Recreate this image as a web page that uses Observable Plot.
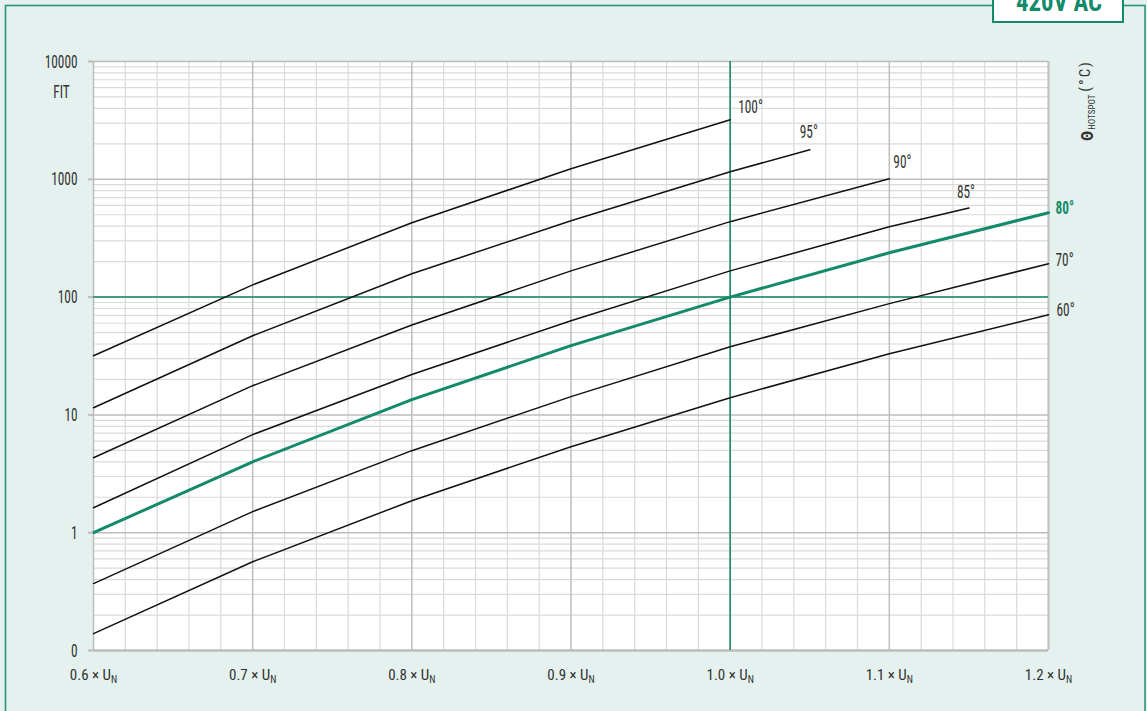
<!DOCTYPE html>
<html><head><meta charset="utf-8">
<script src="https://cdn.jsdelivr.net/npm/d3@7"></script>
<script src="https://cdn.jsdelivr.net/npm/@observablehq/plot@0.6"></script>
<style>body{margin:0;background:#e4f1ee;} #chart svg{display:block}</style>
</head><body><div id="chart"></div>
<script>
// ---- data ----
const voltages = [0.6, 0.7, 0.8, 0.9, 1.0, 1.05, 1.1, 1.15, 1.2];
const fit100 = [31.8, 127, 428, 1230, 3200, null, null, null, null];
const fit95  = [11.5, 47, 158, 445, 1160, 1780, null, null, null];
const fit90  = [4.33, 17.7, 58, 167, 437, null, 1010, null, null];
const fit85  = [1.63, 6.8, 22, 63, 167, null, 396, 570, null];
const fit80  = [1.0, 4.0, 13.5, 38.7, 100, null, 238, null, 520];
const fit70  = [0.37, 1.51, 4.97, 14.3, 37.9, null, 88, null, 192];
const fit60  = [0.139, 0.567, 1.87, 5.37, 14.0, null, 33.1, null, 70.9];
const temps = ["100°", "95°", "90°", "85°", "80°", "70°", "60°"];
const xTicks = [0.6, 0.7, 0.8, 0.9, 1.0, 1.1, 1.2];
const xTickLabels = ["0.6 × U", "0.7 × U", "0.8 × U", "0.9 × U", "1.0 × U", "1.1 × U", "1.2 × U"];
const xTickSub = "N";
const yTicks = [0.1, 1, 10, 100, 1000, 10000];
const yTickLabels = ["0", "1", "10", "100", "1000", "10000"];
const badgeText = "420V AC";
const yUnit = "FIT";
const rightLabel = ["Θ", "HOTSPOT", "(°C)"];

// ---- build table ----
const seriesValues = [fit100, fit95, fit90, fit85, fit80, fit70, fit60];
const rows = temps.flatMap((t, i) => voltages.map((u, j) => ({temp: t, u, fit: seriesValues[i][j]})).filter(d => d.fit != null));
const ends = temps.map(t => rows.filter(d => d.temp === t).at(-1));

const green = "#138a69";
const font = '"Roboto Condensed","DejaVu Sans Condensed",sans-serif';
const squeeze = 0.7;

// grid values
const yMinor = [0.1, 1, 10, 100, 1000].flatMap(d => [2,3,4,5,6,7,8,9].map(k => d * k));
const xMinor = d3.range(30, 61).map(i => i / 50).filter(v => !xTicks.some(t => Math.abs(t - v) < 1e-9));

const labelStyle = {
  "100°": [8, -13], "95°": [-10, -18], "90°": [4, -17], "85°": [-12, -16],
  "80°": [7, -5], "70°": [7, -4], "60°": [8, -5]
};

const svg = Plot.plot({
  width: 1147, height: 711,
  marginLeft: 93, marginRight: 99, marginTop: 61, marginBottom: 61,
  style: {fontFamily: font, fontSize: "18px", background: "transparent", overflow: "visible"},
  x: {domain: [0.6, 1.2]},
  y: {type: "log", domain: [0.1, 10000]},
  marks: [
    Plot.frame({fill: "white", stroke: "none"}),
    Plot.ruleY(yMinor, {stroke: "#dadada", strokeWidth: 1.2}),
    Plot.ruleX(xMinor, {stroke: "#dadada", strokeWidth: 1.2}),
    Plot.ruleX(xTicks, {stroke: "#bdbdbd", strokeWidth: 1.5}),
    Plot.ruleY(yTicks.slice(1), {stroke: "#bdbdbd", strokeWidth: 1.5}),
    Plot.ruleY([0.1], {stroke: "#bdbdbd", strokeWidth: 2.5}),
    Plot.ruleX([1.2], {stroke: "#c3c3c3", strokeWidth: 2}),
    Plot.ruleX([1.0], {stroke: green, strokeWidth: 1.5}),
    Plot.ruleY([100], {stroke: green, strokeWidth: 1.5}),
    Plot.line(rows.filter(d => d.temp !== "80°"), {x: "u", y: "fit", z: "temp", stroke: "#111", strokeWidth: 1.5}),
    Plot.line(rows.filter(d => d.temp === "80°"), {x: "u", y: "fit", stroke: green, strokeWidth: 3}),
    ...temps.map(t => Plot.text(ends.filter(d => d.temp === t), {
      x: "u", y: "fit", text: "temp", textAnchor: "start",
      dx: labelStyle[t][0], dy: labelStyle[t][1], fontSize: 19,
      fill: t === "80°" ? green : "#333", fontWeight: t === "80°" ? "bold" : "normal"
    })),
    Plot.axisY(yTicks, {tickFormat: d => yTickLabels[yTicks.indexOf(d)], tickSize: 5, tickPadding: 11,
      stroke: "#bdbdbd", strokeWidth: 2, color: "#333", fontSize: 19, label: null}),
    Plot.axisX(xTicks, {tickFormat: d => xTickLabels[xTicks.indexOf(d)], tickSize: 0, tickPadding: 19,
      color: "#333", fontSize: 15, label: null}),
    Plot.text([yUnit], {frameAnchor: "top-left", dx: -32, dy: 30, textAnchor: "middle", lineAnchor: "middle", fontSize: 19, fill: "#333"})
  ]
});

const ns = "http://www.w3.org/2000/svg";
const xLabelTexts = [...svg.querySelectorAll('[aria-label="x-axis tick label"] text')];

const s = d3.select(svg);
// background + outer border
s.insert("rect", ":first-child").attr("x", 0).attr("y", 0).attr("width", 1147).attr("height", 711).attr("fill", "#e4f1ee");
s.append("rect").attr("x", 5.5).attr("y", 5.5).attr("width", 1139.5).attr("height", 800)
  .attr("fill", "none").attr("stroke", "#2a9677").attr("stroke-width", 1.6);

document.getElementById("chart").appendChild(svg);

// condense single-run texts (narrow typeface look); x labels keep natural width
svg.querySelectorAll("text").forEach(t => {
  if (xLabelTexts.includes(t)) return;
  const L = t.getComputedTextLength();
  if (L > 0) {
    t.setAttribute("textLength", (L * squeeze).toFixed(1));
    t.setAttribute("lengthAdjust", "spacingAndGlyphs");
  }
});

// subscripts N on x labels
xLabelTexts.forEach(t => {
  const ts = document.createElementNS(ns, "tspan");
  ts.setAttribute("font-size", "10");
  ts.setAttribute("dy", "0.3em");
  ts.textContent = xTickSub;
  t.appendChild(ts);
});

// right side label (rotated, reads bottom to top)
const rl = s.append("text").attr("transform", "translate(1093,141) rotate(-90)")
  .attr("text-anchor", "start").attr("fill", "#333").attr("font-family", font);
rl.append("tspan").attr("font-size", 17).attr("font-weight", "bold").text(rightLabel[0]);
rl.append("tspan").attr("font-size", 9).attr("dy", 2).attr("dx", 1).text(rightLabel[1]);
rl.append("tspan").attr("font-size", 15).attr("dy", -5).attr("dx", 3).attr("letter-spacing", 2).text(rightLabel[2]);

// badge
s.append("rect").attr("x", 993).attr("y", -10).attr("width", 130).attr("height", 32)
  .attr("fill", "white").attr("stroke", green).attr("stroke-width", 2);
s.append("text").attr("x", 1059).attr("y", 11).attr("text-anchor", "middle")
  .attr("font-family", font).attr("font-size", 27).attr("font-weight", "bold").attr("fill", green)
  .attr("textLength", 86).attr("lengthAdjust", "spacingAndGlyphs").text(badgeText);
</script>
</body></html>
